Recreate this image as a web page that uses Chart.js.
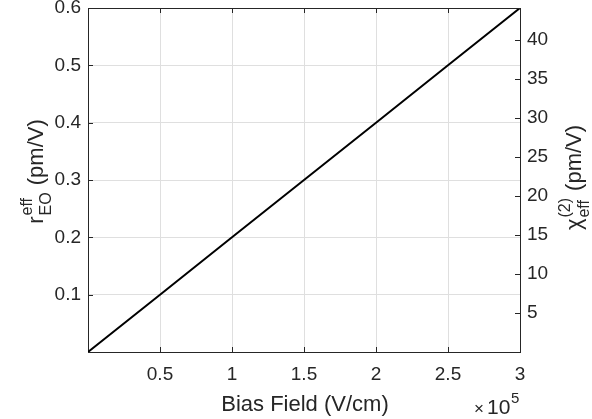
<!DOCTYPE html>
<html>
<head>
<meta charset="utf-8">
<script src="https://cdn.jsdelivr.net/npm/chart.js@4.4.1/dist/chart.umd.min.js"></script>
<style>
  html, body { margin: 0; padding: 0; background: #fff; }
  #wrap { width: 592px; height: 419px; }
</style>
</head>
<body>
<div id="wrap"><canvas id="chart" width="592" height="419"></canvas></div>
<script>
// bias field in units of 1e5 V/cm, r_EO^eff in pm/V
const biasField = [0, 0.5, 1, 1.5, 2, 2.5, 3];
const rEff = [0, 0.1, 0.2, 0.3, 0.4, 0.5, 0.6];

const xTicks = [0.5, 1, 1.5, 2, 2.5, 3];
const leftTicks = [0.1, 0.2, 0.3, 0.4, 0.5, 0.6];
const rightTicks = [5, 10, 15, 20, 25, 30, 35, 40];
const xRange = [0, 3];
const leftRange = [0, 0.6];
const rightRange = [0, 44.1];

const axisColor = '#262626';
const gridColor = '#dfdfdf';
const fontFamily = '"Liberation Sans", Arial, Helvetica, sans-serif';
const tickFont = { family: fontFamily, size: 19 };

function setTicks(list) {
    return function (scale) {
        scale.ticks = list.map(v => ({ value: v }));
    };
}

const plain = v => String(Math.round(v * 100) / 100);

// draw base text with stacked super/subscript, centered at (0,0) baseline
function drawRich(ctx, base, sup, sub, tail, size, small) {
    ctx.font = size + 'px ' + fontFamily;
    const wBase = ctx.measureText(base).width;
    const wTail = ctx.measureText(tail).width;
    ctx.font = small + 'px ' + fontFamily;
    const wSup = ctx.measureText(sup).width;
    const wSub = ctx.measureText(sub).width;
    const wStack = Math.max(wSup, wSub) + 1;
    const total = wBase + wStack + wTail;
    let x = -total / 2;
    ctx.textBaseline = 'alphabetic';
    ctx.textAlign = 'left';
    ctx.font = size + 'px ' + fontFamily;
    ctx.fillText(base, x, 0);
    x += wBase + 1;
    ctx.font = small + 'px ' + fontFamily;
    ctx.fillText(sup, x, -size * 0.5);
    ctx.fillText(sub, x, size * 0.35);
    x += wStack;
    ctx.font = size + 'px ' + fontFamily;
    ctx.fillText(tail, x, 0);
}

const framePlugin = {
    id: 'frame',
    afterDatasetsDraw(chart) {
        const ctx = chart.ctx;
        const a = chart.chartArea;
        const xs = chart.scales.x, yl = chart.scales.y, yr = chart.scales.y2;
        const tl = 5;
        ctx.save();
        ctx.strokeStyle = axisColor;
        ctx.lineWidth = 1;
        ctx.beginPath();
        ctx.moveTo(a.left, a.top + 0.5);
        ctx.lineTo(a.right, a.top + 0.5);
        xTicks.forEach(v => {
            const px = Math.round(xs.getPixelForValue(v)) + 0.5;
            ctx.moveTo(px, a.bottom);
            ctx.lineTo(px, a.bottom - tl);
            ctx.moveTo(px, a.top);
            ctx.lineTo(px, a.top + tl);
        });
        leftTicks.forEach(v => {
            const py = Math.round(yl.getPixelForValue(v)) + 0.5;
            ctx.moveTo(a.left, py);
            ctx.lineTo(a.left + tl, py);
        });
        rightTicks.forEach(v => {
            const py = Math.round(yr.getPixelForValue(v)) + 0.5;
            ctx.moveTo(a.right, py);
            ctx.lineTo(a.right - tl, py);
        });
        ctx.stroke();
        ctx.restore();
    },
    afterDraw(chart) {
        const ctx = chart.ctx;
        const a = chart.chartArea;
        ctx.save();
        ctx.fillStyle = axisColor;

        // x title
        ctx.font = '22px ' + fontFamily;
        ctx.textAlign = 'center';
        ctx.textBaseline = 'alphabetic';
        ctx.fillText('Bias Field (V/cm)', 305, 411);

        // exponent label
        ctx.textAlign = 'left';
        ctx.font = '17px ' + fontFamily;
        ctx.fillText('\u00d7', 474, 414);
        ctx.font = '21px ' + fontFamily;
        ctx.fillText('10', 487, 414);
        ctx.font = '15px ' + fontFamily;
        ctx.fillText('5', 511, 403);

        // left title
        ctx.save();
        ctx.translate(43, 172);
        ctx.rotate(-Math.PI / 2);
        drawRich(ctx, 'r', 'eff', 'EO', ' (pm/V)', 22, 16);
        ctx.restore();

        // right title
        ctx.save();
        ctx.translate(581, 178);
        ctx.rotate(-Math.PI / 2);
        drawRich(ctx, '\u03c7', '(2)', 'eff', ' (pm/V)', 22, 16);
        ctx.restore();

        ctx.restore();
    }
};

const ctx = document.getElementById('chart').getContext('2d');
const chart = new Chart(ctx, {
    type: 'scatter',
    data: {
        datasets: [
            {
                data: biasField.map((x, i) => ({ x: x, y: rEff[i] })),
                showLine: true,
                borderColor: '#000000',
                borderWidth: 2,
                pointRadius: 0,
                xAxisID: 'x',
                yAxisID: 'y'
            }
        ]
    },
    options: {
        responsive: false,
        animation: false,
        devicePixelRatio: 1,
        layout: { padding: { top: 8, left: 0, right: 0, bottom: 0 } },
        plugins: {
            legend: { display: false },
            tooltip: { enabled: false }
        },
        scales: {
            x: {
                type: 'linear',
                position: 'bottom',
                min: xRange[0],
                max: xRange[1],
                afterBuildTicks: setTicks(xTicks),
                afterFit: s => { s.height = 67; s.paddingLeft = 0; s.paddingRight = 0; },
                grid: { color: gridColor, drawTicks: false },
                border: { color: axisColor, width: 1 },
                ticks: { font: tickFont, color: axisColor, padding: 11, maxRotation: 0, callback: plain }
            },
            y: {
                type: 'linear',
                position: 'left',
                min: leftRange[0],
                max: leftRange[1],
                afterBuildTicks: setTicks(leftTicks),
                afterFit: s => { s.width = 88; s.paddingTop = 0; s.paddingBottom = 0; },
                grid: { color: gridColor, drawTicks: false },
                border: { color: axisColor, width: 1 },
                ticks: { font: tickFont, color: axisColor, padding: 7, callback: plain }
            },
            y2: {
                type: 'linear',
                position: 'right',
                min: rightRange[0],
                max: rightRange[1],
                afterBuildTicks: setTicks(rightTicks),
                afterFit: s => { s.width = 72; s.paddingTop = 0; s.paddingBottom = 0; },
                grid: { display: false, drawTicks: false },
                border: { color: axisColor, width: 1 },
                ticks: { font: tickFont, color: axisColor, padding: 7, callback: plain }
            }
        }
    },
    plugins: [framePlugin]
});
</script>
</body>
</html>
